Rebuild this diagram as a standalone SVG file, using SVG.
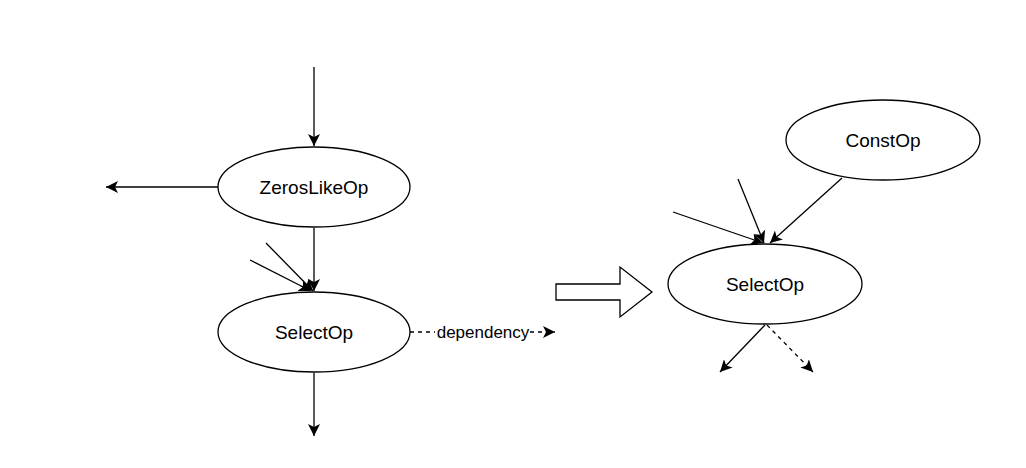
<svg xmlns="http://www.w3.org/2000/svg" width="1026" height="468" viewBox="0 0 1026 468">
<defs>
<style>
.node ellipse{fill:#fff;stroke:#000;stroke-width:1.3}
.node text{font-family:"Liberation Sans",Arial,sans-serif;font-size:19px;text-anchor:middle;dominant-baseline:central;fill:#000}
.edge{stroke:#000;stroke-width:1.3;fill:none}
.dash{stroke-dasharray:4 4}
.lbl{font-family:"Liberation Sans",Arial,sans-serif;font-size:17px;text-anchor:middle;dominant-baseline:central;fill:#000}
</style>
<marker id="arr" markerWidth="14" markerHeight="12" refX="12" refY="6" orient="auto" markerUnits="userSpaceOnUse">
<path d="M0,0 L12,6 L0,12 L3,6 Z" fill="#000"/>
</marker>
</defs>
<rect width="1026" height="468" fill="#fff"/>
<g id="connectors">
<line class="edge" x1="314" y1="67" x2="314" y2="146" marker-end="url(#arr)"/>
<line class="edge" x1="218" y1="187" x2="106" y2="187" marker-end="url(#arr)"/>
<line class="edge" x1="314" y1="228" x2="314" y2="291" marker-end="url(#arr)"/>
<line class="edge" x1="266" y1="243" x2="313" y2="291" marker-end="url(#arr)"/>
<line class="edge" x1="250" y1="260" x2="311" y2="291" marker-end="url(#arr)"/>
<line class="edge" x1="314" y1="373" x2="314" y2="436" marker-end="url(#arr)"/>
<line class="edge dash" x1="410" y1="332" x2="555" y2="332" marker-end="url(#arr)"/>
<rect x="435" y="323" width="95" height="18" fill="#fff"/>
<text class="lbl" x="483" y="332">dependency</text>
<line class="edge" x1="673" y1="212" x2="763" y2="243" marker-end="url(#arr)"/>
<line class="edge" x1="738" y1="179" x2="764" y2="243" marker-end="url(#arr)"/>
<line class="edge" x1="842" y1="178" x2="770" y2="243" marker-end="url(#arr)"/>
<line class="edge" x1="765" y1="325" x2="720" y2="372" marker-end="url(#arr)"/>
<line class="edge dash" x1="767" y1="325" x2="813" y2="372" marker-end="url(#arr)"/>
<path class="edge" d="M556,284 L620,284 L620,267 L652,292 L620,317 L620,300 L556,300 Z" fill="#fff"/>
</g>
<g id="zeroslike" class="node">
<ellipse cx="314" cy="187" rx="96" ry="40"/>
<text x="314" y="187">ZerosLikeOp</text>
</g>
<g id="select1" class="node">
<ellipse cx="314" cy="332" rx="96" ry="40"/>
<text x="314" y="332">SelectOp</text>
</g>
<g id="const" class="node">
<ellipse cx="883" cy="140" rx="97" ry="40"/>
<text x="883" y="140">ConstOp</text>
</g>
<g id="select2" class="node">
<ellipse cx="765" cy="284" rx="97" ry="40"/>
<text x="765" y="284">SelectOp</text>
</g>
</svg>
